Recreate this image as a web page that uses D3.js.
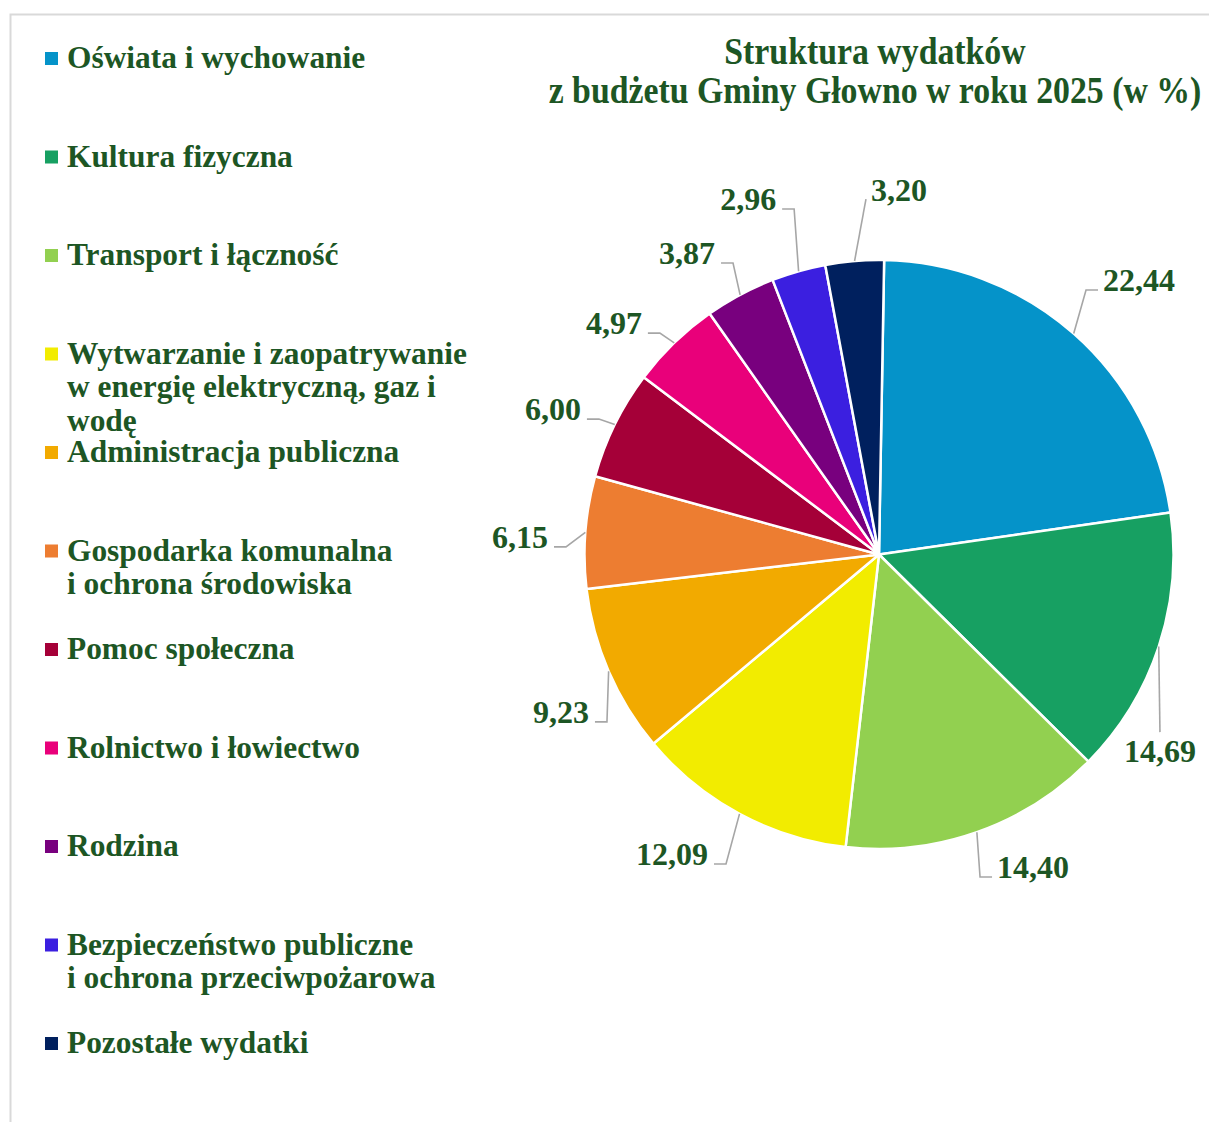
<!DOCTYPE html>
<html>
<head>
<meta charset="utf-8">
<script src="https://cdn.jsdelivr.net/npm/d3@7"></script>
<style>
  html, body { margin: 0; padding: 0; background: #ffffff; }
  svg { display: block; }
</style>
</head>
<body>
<svg id="chart" width="1209" height="1122"></svg>
<script>
// ---- data ----
const categories = [
  "Oświata i wychowanie",
  "Kultura fizyczna",
  "Transport i łączność",
  "Wytwarzanie i zaopatrywanie\nw energię elektryczną, gaz i\nwodę",
  "Administracja publiczna",
  "Gospodarka komunalna\ni ochrona środowiska",
  "Pomoc społeczna",
  "Rolnictwo i łowiectwo",
  "Rodzina",
  "Bezpieczeństwo publiczne\ni ochrona przeciwpożarowa",
  "Pozostałe wydatki"
];
const values = [22.44, 14.69, 14.40, 12.09, 9.23, 6.15, 6.00, 4.97, 3.87, 2.96, 3.20];
const colors = ["#0593c9", "#17a062", "#92d050", "#f2ec00", "#f2aa00", "#ed7d31",
                "#a50038", "#e9007a", "#78007e", "#3b1fe0", "#00205e"];
const titleLines = ["Struktura wydatków", "z budżetu Gminy Głowno w roku 2025 (w %)"];

// ---- layout (label elbow placement in polar coords, degrees / px from centre) ----
const labelLayout = [
  {a: 38.05, r: 335.9, side: "right"},
  {a: 122.3, r: 332.4, side: "below"},
  {a: 162.6, r: 337.9, side: "right"},
  {a: 206.3, r: 345.3, side: "left"},
  {a: 238.4, r: 319.4, side: "left"},
  {a: 271.4, r: 313.1, side: "left"},
  {a: 295.8, r: 311.1, side: "left"},
  {a: 315.3, r: 311.5, side: "left"},
  {a: 333.4, r: 326.0, side: "left"},
  {a: 346.2, r: 355.8, side: "left"},
  {a: 357.9, r: 355.7, side: "direct"}
];

const textColor = "#1d5624";
const fontFamily = "'Liberation Serif', 'Times New Roman', serif";
const svg = d3.select("#chart");

// frame
svg.append("rect")
  .attr("x", 10.5).attr("y", 14.5)
  .attr("width", 1400).attr("height", 1400)
  .attr("fill", "none").attr("stroke", "#d9d9d9").attr("stroke-width", 2);

// title (slightly condensed)
const titleScaleX = 0.91;
svg.append("g")
  .attr("transform", `translate(875,0) scale(${titleScaleX},1)`)
  .selectAll("text").data(titleLines).join("text")
  .attr("x", 0)
  .attr("y", (d, i) => 64 + i * 39)
  .attr("text-anchor", "middle")
  .attr("font-family", fontFamily)
  .attr("font-weight", "bold")
  .attr("font-size", 33.8 / titleScaleX)
  .attr("fill", textColor)
  .text(d => d);

// legend
const legendY = d3.scalePoint().domain(categories).range([68, 1053]);
const legend = svg.append("g").selectAll("g").data(categories).join("g")
  .attr("transform", d => `translate(0,${legendY(d)})`);
legend.append("rect")
  .attr("x", 45).attr("y", -16).attr("width", 13).attr("height", 13)
  .attr("fill", (d, i) => colors[i]);
legend.append("text")
  .attr("x", 67)
  .attr("font-family", fontFamily)
  .attr("font-weight", "bold")
  .attr("font-size", 31.4)
  .attr("fill", textColor)
  .selectAll("tspan").data(d => d.split("\n")).join("tspan")
  .attr("x", 67)
  .attr("dy", (d, i) => i === 0 ? 0 : 33.5)
  .text(d => d);

// pie
const cx = 879, cy = 554.5, R = 294.5;
const rad = Math.PI / 180;
const pie = d3.pie().sort(null).value(d => d)
  .startAngle(1 * rad).endAngle(361 * rad);
const arcs = pie(values);
const arc = d3.arc().innerRadius(0).outerRadius(R);
const g = svg.append("g").attr("transform", `translate(${cx},${cy})`);
g.selectAll("path").data(arcs).join("path")
  .attr("d", arc)
  .attr("fill", (d, i) => colors[i])
  .attr("stroke", "#ffffff")
  .attr("stroke-width", 2.5)
  .attr("stroke-linejoin", "round");

// labels
const fmt = v => d3.format(".2f")(v).replace(".", ",");
const polar = (a, r) => [Math.sin(a) * r, -Math.cos(a) * r];
const lbl = g.append("g");
arcs.forEach((d, i) => {
  const L = labelLayout[i];
  const mid = (d.startAngle + d.endAngle) / 2;
  const p0 = polar(mid, R);
  const p1 = polar(L.a * rad, L.r);
  let pts = [p0, p1];
  let tx, ty, anchor;
  if (L.side === "right") {
    pts.push([p1[0] + 12, p1[1]]);
    tx = p1[0] + 17; ty = p1[1] + 1; anchor = "start";
  } else if (L.side === "left") {
    pts.push([p1[0] - 12, p1[1]]);
    tx = p1[0] - 18; ty = p1[1] + 1; anchor = "end";
  } else if (L.side === "below") {
    tx = p1[0]; ty = p1[1] + 30; anchor = "middle";
  } else {
    tx = p1[0] + 5; ty = p1[1] + 2; anchor = "start";
  }
  lbl.append("path")
    .attr("d", d3.line()(pts))
    .attr("fill", "none")
    .attr("stroke", "#a6a6a6")
    .attr("stroke-width", 1.6);
  lbl.append("text")
    .attr("x", tx).attr("y", ty)
    .attr("text-anchor", anchor)
    .attr("font-family", fontFamily)
    .attr("font-weight", "bold")
    .attr("font-size", 32)
    .attr("fill", textColor)
    .text(fmt(values[i]));
});
</script>
</body>
</html>
